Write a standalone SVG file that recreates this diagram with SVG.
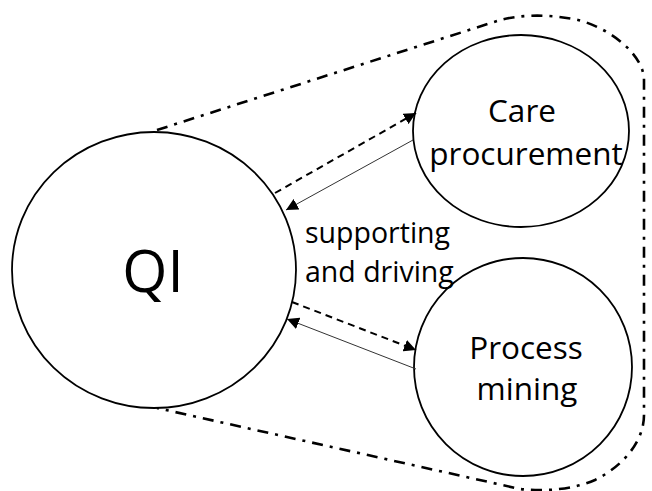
<svg xmlns="http://www.w3.org/2000/svg" width="652" height="491" viewBox="0 0 652 491">
<style>
.node{fill:#fff;stroke:#000;stroke-width:1.8}
.lbl{font-family:"Open Sans","Noto Sans","Liberation Sans",sans-serif;fill:#000;text-anchor:middle}
.hull{fill:none;stroke:#000;stroke-width:2.6;stroke-dasharray:11 7 3 7}
.dash{fill:none;stroke:#000;stroke-width:2;stroke-dasharray:7 5}
.thin{fill:none;stroke:#333;stroke-width:1}
</style>
<defs>
<marker id="ah" viewBox="0 0 10 10" refX="10" refY="5" markerWidth="10" markerHeight="10" markerUnits="userSpaceOnUse" orient="auto">
<path d="M0,0 L10,5 L0,10 Z" fill="#000"/>
</marker>
<marker id="ah2" viewBox="0 0 10 10" refX="10" refY="5" markerWidth="12" markerHeight="12" markerUnits="userSpaceOnUse" orient="auto">
<path d="M0,0 L10,5 L0,10 Z" fill="#000"/>
</marker>
</defs>
<path class="hull" d="M157,130 L497,21 C520,14 550,14 578,20 C610,28 644,55 644,80 L644,415 C644,440 625,465 595,480 C575,489 545,492 520,489 L157,408"/>
<g id="qi">
<ellipse class="node" cx="154" cy="270" rx="142" ry="138"/>
<text class="lbl" x="153" y="292" font-size="58">QI</text>
</g>
<g id="care">
<ellipse class="node" cx="521" cy="131" rx="108" ry="96"/>
<text class="lbl" x="522" y="122" font-size="31.5">Care</text>
<text class="lbl" x="526" y="165" font-size="31.5">procurement</text>
</g>
<g id="process">
<ellipse class="node" cx="523" cy="367" rx="109" ry="109"/>
<text class="lbl" x="526" y="359" font-size="31.5">Process</text>
<text class="lbl" x="527" y="400" font-size="31.5">mining</text>
</g>
<g id="connectors">
<line class="dash" x1="275" y1="193" x2="416" y2="113" marker-end="url(#ah2)"/>
<line class="thin" x1="413" y1="140" x2="286" y2="210" marker-end="url(#ah2)"/>
<line class="dash" x1="292" y1="302" x2="416" y2="350" marker-end="url(#ah2)"/>
<line class="thin" x1="416" y1="369" x2="287" y2="319" marker-end="url(#ah2)"/>
</g>
<g id="edge-label">
<text class="lbl" x="305" y="243" font-size="28.5" style="text-anchor:start">supporting</text>
<text class="lbl" x="305" y="282" font-size="28.5" style="text-anchor:start">and driving</text>
</g>
</svg>
